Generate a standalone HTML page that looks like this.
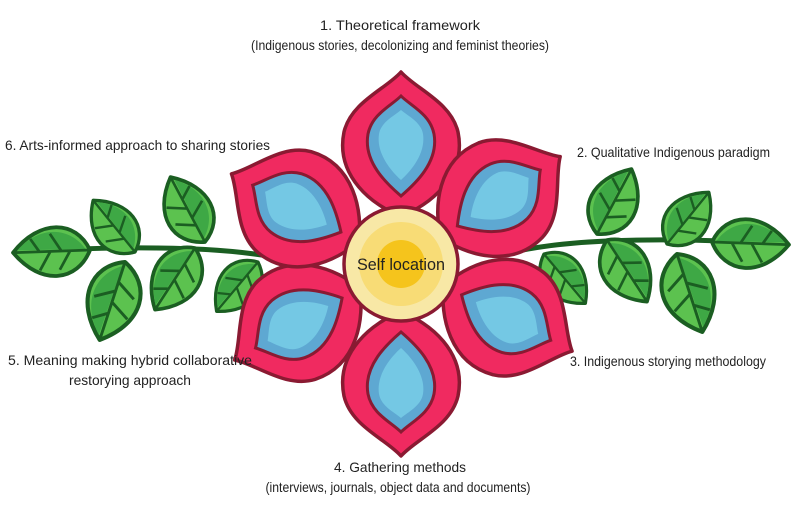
<!DOCTYPE html>
<html><head><meta charset="utf-8"><style>
html,body{margin:0;padding:0;background:#fff}
svg{display:block}
text{font-family:"Liberation Sans Narrow","Liberation Sans",sans-serif;font-size:14px;fill:#222}
</style></head><body>
<svg width="800" height="532" viewBox="0 0 800 532" xmlns="http://www.w3.org/2000/svg">
<defs>
<g id="leaf">
<path d="M0,0 C12,-28 45,-32 70,0 C45,30 12,28 0,0Z" fill="#5cc24f" stroke="#1b5e22" stroke-width="3.5" stroke-linejoin="round"/>
<path d="M4,1 C18,22 45,24 66,2 Z" fill="#3ea845"/>
<path d="M0,0 L68,0 M18,0 L28,-17 M36,0 L46,-17 M26,0 L36,16 M46,0 L54,12" stroke="#1b5e22" stroke-width="2.5" fill="none"/>
</g>
<g id="branch">
<path d="M300,263 Q220,240 15,252" stroke="#1b5e22" stroke-width="5" fill="none"/>
<use href="#leaf" transform="translate(90,250) rotate(178) scale(1.1)"/>
<use href="#leaf" transform="translate(135,252) rotate(-129) scale(0.95)"/>
<use href="#leaf" transform="translate(125,262) rotate(108) scale(1.17)"/>
<use href="#leaf" transform="translate(205,242) rotate(-118) scale(1.05)"/>
<use href="#leaf" transform="translate(195,248) rotate(123) scale(1.05)"/>
<use href="#leaf" transform="translate(258,262) rotate(130) scale(0.92)"/>
</g>
<g id="petal">
<path d="M0,-48 C-28,-58 -66,-88 -57,-132 C-50,-162 -15,-175 0,-192 C15,-175 50,-162 57,-132 C66,-88 28,-58 0,-48Z" fill="#f02a60" stroke="#8a1a32" stroke-width="3.5" stroke-linejoin="round"/>
<path d="M0,-68 C-14,-80 -38,-102 -33,-130 C-29,-150 -10,-158 0,-168 C10,-158 29,-150 33,-130 C38,-102 14,-80 0,-68Z" fill="#5ea8d2" stroke="#8a1a32" stroke-width="3"/>
<path d="M0,-84 C-9,-92 -25,-110 -22,-130 C-20,-142 -7,-148 0,-154 C7,-148 20,-142 22,-130 C25,-110 9,-92 0,-84Z" fill="#74c8e4"/>
</g>
</defs>
<use href="#branch"/>
<use href="#branch" transform="translate(802,-8) scale(-1,1)"/>
<g transform="translate(401,264)">
<use href="#petal" transform="rotate(0)"/>
<use href="#petal" transform="rotate(56)"/>
<use href="#petal" transform="rotate(117)"/>
<use href="#petal" transform="rotate(180)"/>
<use href="#petal" transform="rotate(240)"/>
<use href="#petal" transform="rotate(298)"/>
<circle r="57" fill="#f8e8a6" stroke="#8a1a32" stroke-width="3.5"/>
<circle r="42" fill="#f8dc76"/>
<circle r="24" fill="#f5c41c"/>
</g>
<text x="401" y="270" text-anchor="middle" style="font-size:17px" textLength="88" lengthAdjust="spacingAndGlyphs">Self location</text>
<text x="400" y="30" text-anchor="middle" textLength="160" lengthAdjust="spacingAndGlyphs">1. Theoretical framework</text>
<text x="400" y="50" text-anchor="middle" textLength="298" lengthAdjust="spacingAndGlyphs">(Indigenous stories, decolonizing and feminist theories)</text>
<text x="5" y="150" textLength="265" lengthAdjust="spacingAndGlyphs">6. Arts-informed approach to sharing stories</text>
<text x="577" y="157" textLength="193" lengthAdjust="spacingAndGlyphs">2. Qualitative Indigenous paradigm</text>
<text x="570" y="366" textLength="196" lengthAdjust="spacingAndGlyphs">3. Indigenous storying methodology</text>
<text x="8" y="365" textLength="244" lengthAdjust="spacingAndGlyphs">5. Meaning making hybrid collaborative</text>
<text x="130" y="385" text-anchor="middle" textLength="122" lengthAdjust="spacingAndGlyphs">restorying approach</text>
<text x="400" y="472" text-anchor="middle" textLength="132" lengthAdjust="spacingAndGlyphs">4. Gathering methods</text>
<text x="398" y="492" text-anchor="middle" textLength="265" lengthAdjust="spacingAndGlyphs">(interviews, journals, object data and documents)</text>
</svg>
</body></html>
